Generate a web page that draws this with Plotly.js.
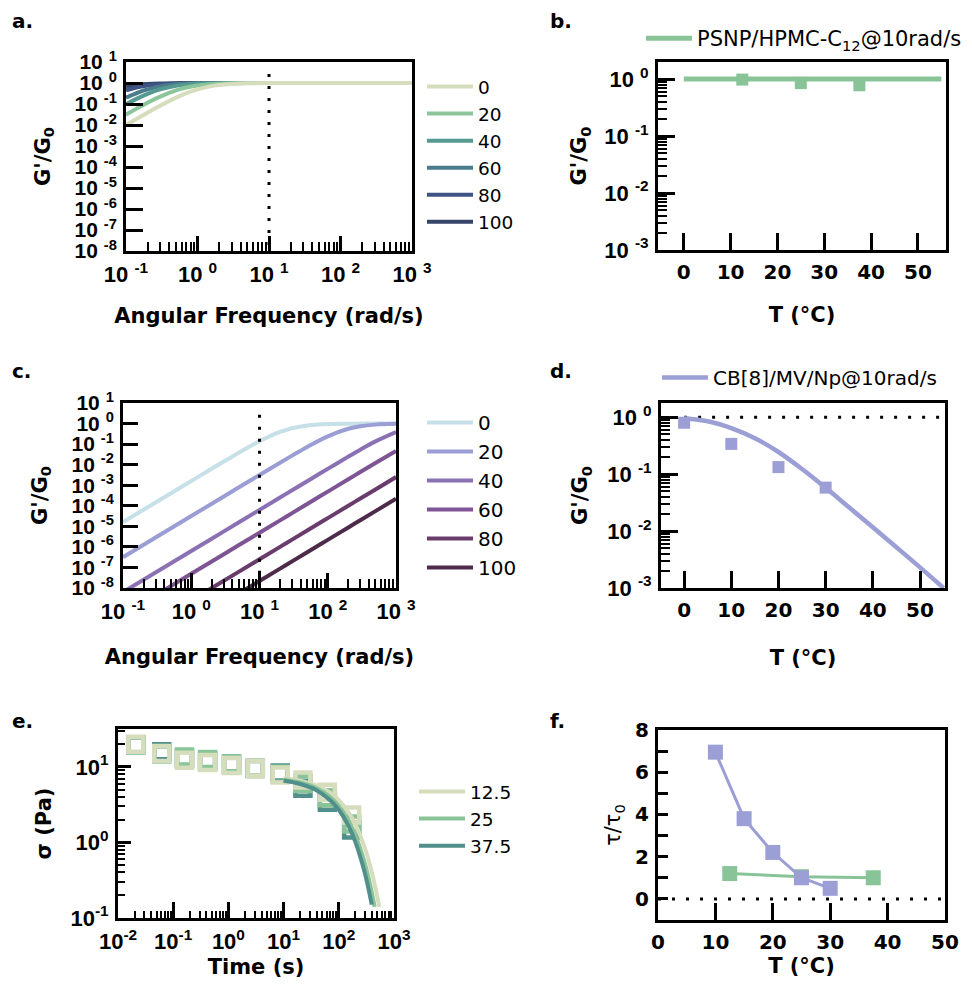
<!DOCTYPE html>
<html><head><meta charset="utf-8">
<script src="https://cdn.plot.ly/plotly-3.0.1.min.js"></script>
<style>html,body{margin:0;padding:0;background:#fff}#chart{width:972px;height:997px}</style>
</head><body><div id="chart"></div>
<script>
const FONT = '"Liberation Sans", Arial, sans-serif';
const WFONT = '"DejaVu Sans", Verdana, sans-serif';

// ---------- panel a: G'/G0 vs angular frequency (PSNP/HPMC-C12) ----------
const freqA = [0.1, 0.15, 0.2, 0.3, 0.5, 0.7, 1, 1.5, 2, 3, 5, 10, 30, 100, 1000];
const tempsA = ['0', '20', '40', '60', '80', '100'];
const gA_0   = [0.0099, 0.022, 0.0385, 0.083, 0.2, 0.33, 0.5, 0.69, 0.8, 0.9, 0.96, 0.99, 1, 1, 1];
const gA_20  = [0.031, 0.068, 0.115, 0.226, 0.448, 0.614, 0.764, 0.879, 0.928, 0.967, 0.988, 0.997, 1, 1, 1];
const gA_40  = [0.098, 0.197, 0.303, 0.495, 0.732, 0.842, 0.916, 0.961, 0.978, 0.99, 0.996, 0.999, 1, 1, 1];
const gA_60  = [0.2, 0.36, 0.5, 0.692, 0.862, 0.925, 0.962, 0.983, 0.99, 0.996, 0.998, 1, 1, 1, 1];
const gA_80  = [0.448, 0.646, 0.764, 0.879, 0.953, 0.975, 0.988, 0.995, 0.997, 0.999, 1, 1, 1, 1, 1];
const gA_100 = [0.692, 0.835, 0.9, 0.953, 0.983, 0.991, 0.996, 0.998, 0.999, 1, 1, 1, 1, 1, 1];
const colorsA = ['#d6ddbd', '#8cc59b', '#569990', '#4b7c8d', '#3d5384', '#344569'];

// ---------- panel b: G'/G0 at 10 rad/s vs T ----------
const tempB = [12.5, 25, 37.5];
const gB = [0.98, 0.85, 0.78];
const lineTB = [0, 55];
const lineGB = [1, 1];

// ---------- panel c: G'/G0 vs angular frequency (CB[8]/MV/Np) ----------
const freqC = [0.1, 1, 3, 10, 20, 30, 50, 100, 200, 300, 500, 1000];
const tempsC = ['0', '20', '40', '60', '80', '100'];
const gC_0   = [1.6e-5, 1.6e-3, 0.0142, 0.138, 0.39, 0.59, 0.8, 0.941, 0.985, 0.993, 0.9975, 0.9994];
const gC_20  = [3.16e-7, 3.16e-5, 2.84e-4, 3.15e-3, 0.01247, 0.0276, 0.0732, 0.24, 0.558, 0.74, 0.888, 0.969];
const gC_40  = [6.3e-9, 6.3e-7, 5.67e-6, 6.3e-5, 2.52e-4, 5.67e-4, 1.575e-3, 6.26e-3, 0.0246, 0.0537, 0.136, 0.387];
const gC_60  = [4.9e-10, 4.9e-8, 4.4e-7, 4.9e-6, 1.95e-5, 4.4e-5, 1.22e-4, 4.88e-4, 1.95e-3, 4.38e-3, 0.01206, 0.0466];
const gC_80  = [2.5e-11, 2.5e-9, 2.25e-8, 2.5e-7, 1e-6, 2.25e-6, 6.25e-6, 2.5e-5, 1e-4, 2.25e-4, 6.25e-4, 2.49e-3];
const gC_100 = [2.2e-12, 2.2e-10, 1.98e-9, 2.2e-8, 8.8e-8, 1.98e-7, 5.5e-7, 2.2e-6, 8.8e-6, 1.98e-5, 5.5e-5, 2.2e-4];
const colorsC = ['#c6e0e7', '#9b9dd5', '#8b71b4', '#7e5494', '#6a3c6c', '#4e2b4b'];

// reference line at 10 rad/s (panels a, c)
const refLineX = [10, 10];
const refLineY = [2.7, 1e-8];

// ---------- panel d: G'/G0 at 10 rad/s vs T ----------
const tempD = [0, 10, 20, 30];
const gD = [0.8, 0.34, 0.133, 0.058];
const fitTD = [0, 5, 10, 15, 20, 25, 30, 35, 40, 45, 50, 55];
const fitGD = [0.95, 0.85, 0.645, 0.427, 0.245, 0.123, 0.0575, 0.026, 0.0117, 0.0052, 0.0023, 0.001];
const refD_T = [0, 55];
const refD_G = [1, 1];

// ---------- panel e: stress relaxation ----------
const timeE = [0.021, 0.062, 0.16, 0.42, 1.14, 3.07, 8.7, 22.4, 62, 171];
const sigE_125 = [19.8, 15.0, 12.2, 11.4, 10.4, 9.5, 7.8, 6.7, 4.6, 2.3];
const sigE_25  = [19.5, 14.8, 13.5, 12.5, 11.0, 9.6, 8.0, 6.0, 3.9, 1.75];
const sigE_375 = [19.5, 15.8, 12.9, 11.8, 10.6, 9.5, 8.3, 5.2, 3.4, 1.46];
const fitTE_125 = [10, 20, 40, 70, 100, 150, 200, 300, 400, 500, 540];
const fitSE_125 = [7.06, 6.55, 5.65, 4.53, 3.62, 2.50, 1.73, 0.82, 0.39, 0.187, 0.14];
const fitTE_25  = [10, 20, 40, 70, 100, 150, 200, 300, 400, 445];
const fitSE_25  = [6.77, 6.19, 5.18, 3.96, 3.03, 1.94, 1.24, 0.51, 0.21, 0.14];
const fitTE_375 = [10, 20, 40, 70, 100, 150, 200, 300, 395];
const fitSE_375 = [6.53, 5.92, 4.87, 3.62, 2.70, 1.65, 1.01, 0.38, 0.15];
const tempsE = ['12.5', '25', '37.5'];
const colorsE = ['#d6ddbd', '#88c497', '#508f8b'];

// ---------- panel f: tau/tau0 vs T ----------
const tempF_cb = [10, 15, 20, 25, 30];
const tauF_cb = [6.95, 3.8, 2.2, 1.0, 0.5];
const tempF_ps = [12.5, 25, 37.5];
const tauF_ps = [1.2, 1.05, 1.0];
const refF_T = [0, 50];
const refF_Y = [0, 0];

// tick labels
const S = '\u00A0';
const ticksA_y = [1e-8,1e-7,1e-6,1e-5,1e-4,1e-3,1e-2,1e-1,1,10];
const ticktxtA_y = ['-8','-7','-6','-5','-4','-3','-2','-1','0','1'].map(e => '10' + S + '<sup>' + e + '</sup>');
const ticksA_x = [0.1, 1, 10, 100, 1000];
const ticktxtA_x = ['-1','0','1','2','3'].map(e => '10' + S + '<sup>' + e + '</sup>');
const ticksB_y = [1e-3, 1e-2, 1e-1, 1];
const ticktxtB_y = ['-3','-2','-1','0'].map(e => '10' + S + '<sup>' + e + '</sup>');
const ticksT = [0, 10, 20, 30, 40, 50];
const ticksE_x = [0.01, 0.1, 1, 10, 100, 1000];
const ticktxtE_x = ['-2','-1','0','1','2','3'].map(e => '10<sup>' + e + '</sup>');
const ticksE_y = [0.1, 1, 10];
const ticktxtE_y = ['-1','0','1'].map(e => '10<sup>' + e + '</sup>');

const W = 972, H = 997;
const dx = (l, r) => [l / W, r / W];
const dy = (t, b) => [1 - b / H, 1 - t / H];

const tickFont = {family: FONT, size: 22, weight: 'bold', color: '#000'};
const tickFontY = {family: FONT, size: 21, weight: 'bold', color: '#000'};
const tickFontW = {family: WFONT, size: 20, weight: 'bold', color: '#000'};
const titleFont = {family: WFONT, size: 21, weight: 'bold', color: '#000'};

function ax(extra) {
  return Object.assign({
    showline: true, linecolor: '#000', linewidth: 3, mirror: true,
    ticks: 'inside', tickcolor: '#000', tickwidth: 3, ticklen: 16,
    showgrid: false, zeroline: false, fixedrange: true,
    tickfont: tickFont, ticklabelstandoff: 2
  }, extra);
}
const minorLog = (len) => ({ticks: 'inside', ticklen: len, tickwidth: 2, tickcolor: '#000', dtick: 'D1', showgrid: false});
const dot = '3px,9px';

const traces = [];
// panel a (drawn 100 -> 0 so light curve ends on top)
const gA = [gA_0, gA_20, gA_40, gA_60, gA_80, gA_100];
for (let i = 5; i >= 0; i--) {
  traces.push({x: freqA, y: gA[i], xaxis: 'x', yaxis: 'y', mode: 'lines', name: tempsA[i],
    line: {color: colorsA[i], width: 4, shape: 'spline'}, legend: 'legend'});
}
traces.push({x: refLineX, y: refLineY, xaxis: 'x', yaxis: 'y', mode: 'lines', showlegend: false,
  line: {color: '#000', width: 3, dash: dot}});

// panel b
traces.push({x: lineTB, y: lineGB, xaxis: 'x2', yaxis: 'y2', mode: 'lines', name: 'PSNP/HPMC-C<sub>12</sub>@10rad/s',
  line: {color: '#88c497', width: 5}, legend: 'legend2'});
traces.push({x: tempB, y: gB, xaxis: 'x2', yaxis: 'y2', mode: 'markers', showlegend: false,
  marker: {symbol: 'square', size: 12, color: '#88c497'}});

// panel c
const gC = [gC_0, gC_20, gC_40, gC_60, gC_80, gC_100];
for (let i = 0; i < 6; i++) {
  traces.push({x: freqC, y: gC[i], xaxis: 'x3', yaxis: 'y3', mode: 'lines', name: tempsC[i],
    line: {color: colorsC[i], width: 4, shape: 'spline'}, legend: 'legend3'});
}
traces.push({x: refLineX, y: refLineY, xaxis: 'x3', yaxis: 'y3', mode: 'lines', showlegend: false,
  line: {color: '#000', width: 3, dash: dot}});

// panel d
traces.push({x: refD_T, y: refD_G, xaxis: 'x4', yaxis: 'y4', mode: 'lines', showlegend: false,
  line: {color: '#000', width: 3, dash: '3px,11px'}});
traces.push({x: fitTD, y: fitGD, xaxis: 'x4', yaxis: 'y4', mode: 'lines', name: 'CB[8]/MV/Np@10rad/s',
  line: {color: '#9c9fd6', width: 4.5, shape: 'spline'}, legend: 'legend4'});
traces.push({x: tempD, y: gD, xaxis: 'x4', yaxis: 'y4', mode: 'markers', showlegend: false,
  marker: {symbol: 'square', size: 12, color: '#9c9fd6'}});

// panel e
const sigE = [sigE_125, sigE_25, sigE_375];
const fitTE = [fitTE_125, fitTE_25, fitTE_375];
const fitSE = [fitSE_125, fitSE_25, fitSE_375];
for (let i = 2; i >= 0; i--) {
  traces.push({x: timeE, y: sigE[i], xaxis: 'x5', yaxis: 'y5', mode: 'markers', showlegend: false,
    marker: {symbol: 'square-open', size: 15, color: colorsE[i], line: {width: 4.5, color: colorsE[i]}}});
}
for (let i = 0; i < 3; i++) {
  traces.push({x: fitTE[i], y: fitSE[i], xaxis: 'x5', yaxis: 'y5', mode: 'lines', name: tempsE[i],
    line: {color: colorsE[i], width: 4, shape: 'spline'}, legend: 'legend5'});
}

// panel f
traces.push({x: refF_T, y: refF_Y, xaxis: 'x6', yaxis: 'y6', mode: 'lines', showlegend: false,
  line: {color: '#000', width: 3, dash: '3px,11px'}});
traces.push({x: tempF_ps, y: tauF_ps, xaxis: 'x6', yaxis: 'y6', mode: 'lines+markers', showlegend: false,
  line: {color: '#88c497', width: 3}, marker: {symbol: 'square', size: 15, color: '#88c497'}});
traces.push({x: tempF_cb, y: tauF_cb, xaxis: 'x6', yaxis: 'y6', mode: 'lines+markers', showlegend: false,
  line: {color: '#9c9fd6', width: 3}, marker: {symbol: 'square', size: 15, color: '#9c9fd6'}});

const legBase = (x, y, size, iw, extra) => Object.assign({
  x: x / W, y: 1 - y / H, xanchor: 'left', yanchor: 'top',
  font: {family: WFONT, size: size, color: '#000'}, bgcolor: 'rgba(0,0,0,0)',
  itemwidth: iw, tracegroupgap: 0, borderwidth: 0
}, extra || {});

const yTitle = (t, so) => ({text: t, font: titleFont, standoff: so});
const xTitle = (t, so) => ({text: t, font: titleFont, standoff: so});
const layout = {
  width: W, height: H, margin: {l: 0, r: 0, t: 0, b: 0},
  paper_bgcolor: '#fff', plot_bgcolor: '#fff', showlegend: true, hovermode: false,
  font: {family: FONT, color: '#000'},
  // a
  xaxis: ax({domain: dx(126, 412), anchor: 'y', type: 'log', range: [-1, 3], tickvals: ticksA_x, ticktext: ticktxtA_x,
    ticklen: 15, minor: minorLog(9), title: xTitle('Angular Frequency (rad/s)', 22)}),
  yaxis: ax({domain: dy(62, 251), anchor: 'x', type: 'log', range: [-8, 1], tickvals: ticksA_y, ticktext: ticktxtA_y,
    ticklen: 17, tickfont: tickFontY, title: yTitle("G'/G<sub>0</sub>", 19)}),
  // b
  xaxis2: ax({domain: dx(658, 946), anchor: 'y2', range: [-5.5, 56], tickvals: ticksT, ticklen: 17, tickfont: tickFontW,
    title: xTitle('T (°C)', 25)}),
  yaxis2: ax({domain: dy(62, 250), anchor: 'x2', type: 'log', range: [-3, 0.3], tickvals: ticksB_y, ticktext: ticktxtB_y,
    ticklen: 17, minor: minorLog(9), title: yTitle("G'/G<sub>0</sub>", 12)}),
  // c
  xaxis3: ax({domain: dx(123, 396), anchor: 'y3', type: 'log', range: [-1, 3], tickvals: ticksA_x, ticktext: ticktxtA_x,
    ticklen: 15, minor: minorLog(9), title: xTitle('Angular Frequency (rad/s)', 26)}),
  yaxis3: ax({domain: dy(403, 588), anchor: 'x3', type: 'log', range: [-8, 1], tickvals: ticksA_y, ticktext: ticktxtA_y,
    ticklen: 15, tickfont: tickFontY, title: yTitle("G'/G<sub>0</sub>", 19)}),
  // d
  xaxis4: ax({domain: dx(661, 945), anchor: 'y4', range: [-4.9, 55.3], tickvals: ticksT, ticklen: 17, tickfont: tickFontW,
    title: xTitle('T (°C)', 30)}),
  yaxis4: ax({domain: dy(403, 588), anchor: 'x4', type: 'log', range: [-3, 0.25], tickvals: ticksB_y, ticktext: ticktxtB_y,
    ticklen: 17, minor: minorLog(9), title: yTitle("G'/G<sub>0</sub>", 14)}),
  // e
  xaxis5: ax({domain: dx(118, 394), anchor: 'y5', type: 'log', range: [-2, 3], tickvals: ticksE_x, ticktext: ticktxtE_x,
    ticklen: 16, minor: minorLog(7), title: xTitle('Time (s)', 6)}),
  yaxis5: ax({domain: dy(729, 918), anchor: 'x5', type: 'log', range: [-1, 1.5], tickvals: ticksE_y, ticktext: ticktxtE_y,
    ticklen: 13, minor: minorLog(7), title: yTitle('σ (Pa)', 14)}),
  // f
  xaxis6: ax({domain: dx(658, 945), anchor: 'y6', range: [0, 50], tickvals: ticksT, ticklen: 17, tickfont: tickFontW,
    title: xTitle('T (°C)', 6)}),
  yaxis6: ax({domain: dy(730, 920), anchor: 'x6', range: [-1, 8], dtick: 2, tick0: 0, ticklen: 10, tickfont: tickFontW,
    minor: {ticks: 'inside', ticklen: 10, tickwidth: 3, tickcolor: '#000', dtick: 1, showgrid: false},
    title: {text: 'τ/τ<sub>0</sub>', font: {family: WFONT, size: 21, color: '#000'}, standoff: 9}}),
  legend: legBase(422, 68, 18.5, 46, {traceorder: 'reversed'}),
  legend2: legBase(641, 18, 21, 46),
  legend3: legBase(422, 403, 20, 46),
  legend4: legBase(657, 358, 20, 46),
  legend5: legBase(414, 773, 18.5, 46),
  annotations: [
    ['a.', 10, 21], ['b.', 548, 21], ['c.', 10, 371], ['d.', 548, 371], ['e.', 10, 721], ['f.', 548, 721]
  ].map(([t, x, y]) => ({text: t, x: x / W, y: 1 - y / H, xref: 'paper', yref: 'paper', xanchor: 'left', yanchor: 'middle',
    showarrow: false, font: {family: WFONT, size: 20, weight: 'bold', color: '#000'}}))
};

Plotly.newPlot('chart', traces, layout, {staticPlot: true, displayModeBar: false});
</script>
</body></html>
